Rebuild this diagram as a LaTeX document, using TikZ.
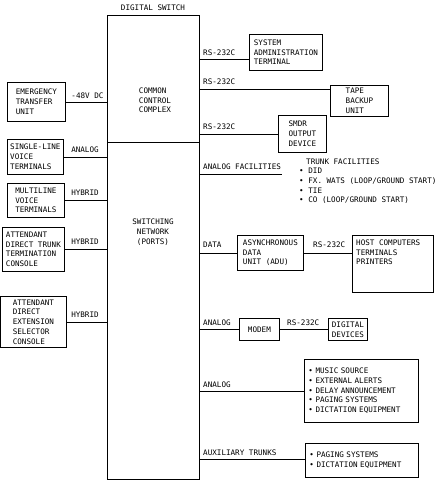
\documentclass[tikz,border=0pt]{standalone}
\usepackage{fontspec}
\setmonofont{DejaVu Sans Mono}
\begin{document}
\begin{tikzpicture}[x=1pt,y=-1pt,
  every node/.style={font=\fontsize{7.6}{9.7}\selectfont\ttfamily, inner sep=0pt},
  box/.style={draw, line width=0.8pt, align=left},
  frame/.style={draw, line width=0.9pt},
  lbl/.style={text height=5.5pt, text depth=0pt},
  conn/.style={line width=0.8pt}]
\useasboundingbox (0,0) rectangle (440,496);
% main switch
\node[frame, minimum width=92, minimum height=127, anchor=north west] (ccc) at (107,15) {};
\node[frame, minimum width=92, minimum height=337, anchor=north west] (sw) at (107,142) {};
\node[lbl] (title) at (153,7.5) {DIGITAL SWITCH};
\node[align=left] (ccctext) at (155,100.5) {COMMON\\CONTROL\\COMPLEX};
\node[align=center] (swtext) at (153,232) {SWITCHING\\NETWORK\\(PORTS)};
% left boxes
\node[box, minimum width=58, minimum height=39, anchor=north west] (etu) at (7,82) {EMERGENCY\\TRANSFER\\UNIT};
\node[box, minimum width=56, minimum height=35, anchor=north west] (slt) at (7,139) {SINGLE-LINE\\VOICE\\TERMINALS};
\node[box, minimum width=57, minimum height=34, anchor=north west] (mlt) at (7,183) {MULTILINE\\VOICE\\TERMINALS};
\node[box, minimum width=62, minimum height=44, anchor=north west] (adt) at (2,227) {ATTENDANT\\DIRECT TRUNK\\TERMINATION\\CONSOLE};
\node[box, minimum width=65, minimum height=51, anchor=north west] (ade) at (0.5,296) {ATTENDANT\\DIRECT\\EXTENSION\\SELECTOR\\CONSOLE};
% left connectors
\draw[conn] (etu.east) -- (ccc.west |- etu.east);
\draw[conn] (slt.east) -- (sw.west |- slt.east);
\draw[conn] (mlt.east) -- (sw.west |- mlt.east);
\draw[conn] (adt.east) -- (sw.west |- adt.east);
\draw[conn] (ade.east) -- (sw.west |- ade.east);
\node[lbl] (l48) at (87.5,96) {-48V DC};
\node[lbl] (lan1) at (85,150) {ANALOG};
\node[lbl] (lhy1) at (85,193) {HYBRID};
\node[lbl] (lhy2) at (85,242) {HYBRID};
\node[lbl] (lhy3) at (85,315) {HYBRID};
% right boxes
\node[box, minimum width=73, minimum height=36, anchor=north west] (sat) at (249,34) {SYSTEM\\ADMINISTRATION\\TERMINAL};
\node[box, minimum width=58, minimum height=31, anchor=north west] (tape) at (330,85) {TAPE\\BACKUP\\UNIT};
\node[box, minimum width=48, minimum height=37, anchor=north west] (smdr) at (278,115) {SMDR\\OUTPUT\\DEVICE};
\node[box, minimum width=66, minimum height=35, anchor=north west] (adu) at (237,235) {ASYNCHRONOUS\\DATA\\UNIT (ADU)};
\node[box, minimum width=81, minimum height=57, anchor=north west] (host) at (352,235) {};
\node[align=left, anchor=north west] (hosttext) at (356,239.5) {HOST COMPUTERS\\TERMINALS\\PRINTERS};
\node[box, minimum width=40, minimum height=22, anchor=north west] (modem) at (239,318) {MODEM};
\node[box, minimum width=39, minimum height=22, anchor=north west] (dig) at (328,318) {DIGITAL\\DEVICES};
\node[box, inner xsep=4pt, text width=106pt, minimum height=63, anchor=north west] (music) at (304,359) {• MUSIC SOURCE\\• EXTERNAL ALERTS\\• DELAY ANNOUNCEMENT\\• PAGING SYSTEMS\\• DICTATION EQUIPMENT};
\node[box, inner xsep=4pt, text width=105pt, minimum height=34, anchor=north west] (aux) at (305,443) {• PAGING SYSTEMS\\• DICTATION EQUIPMENT};
% right connectors
\draw[conn] (ccc.east |- 0,59) -- (sat.west |- 0,59);
\draw[conn] (ccc.east |- 0,89) -- (tape.west |- 0,89);
\draw[conn] (ccc.east |- smdr.west) -- (smdr.west);
\coordinate (afend) at (282,174);
\draw[conn] (sw.east |- afend) -- (afend);
\draw[conn] (sw.east |- adu.west) -- (adu.west);
\draw[conn] (adu.east) -- (host.west |- adu.east);
\draw[conn] (sw.east |- modem.west) -- (modem.west);
\draw[conn] (modem.east) -- (dig.west);
\draw[conn] (sw.east |- music.west) -- (music.west);
\draw[conn] (sw.east |- 0,459) -- (aux.west |- 0,459);
% right labels
\node[lbl, anchor=west] (r1) at (203,53) {RS-232C};
\node[lbl, anchor=west] (r2) at (203,82) {RS-232C};
\node[lbl, anchor=west] (r3) at (203,127) {RS-232C};
\node[lbl, anchor=west] (raf) at (203,167) {ANALOG FACILITIES};
\node[align=left, anchor=north west] (trunk) at (299,158.2) {\hspace*{7pt}TRUNK FACILITIES\\• DID\\• FX. WATS (LOOP/GROUND START)\\• TIE\\• CO (LOOP/GROUND START)};
\node[lbl, anchor=west] (rdata) at (203,245) {DATA};
\node[lbl, anchor=west] (r4) at (313,245) {RS-232C};
\node[lbl, anchor=west] (ran2) at (203,323) {ANALOG};
\node[lbl, anchor=west] (r5) at (287,323) {RS-232C};
\node[lbl, anchor=west] (ran3) at (203,385) {ANALOG};
\node[lbl, anchor=west] (raux) at (203,453) {AUXILIARY TRUNKS};
\end{tikzpicture}
\end{document}
